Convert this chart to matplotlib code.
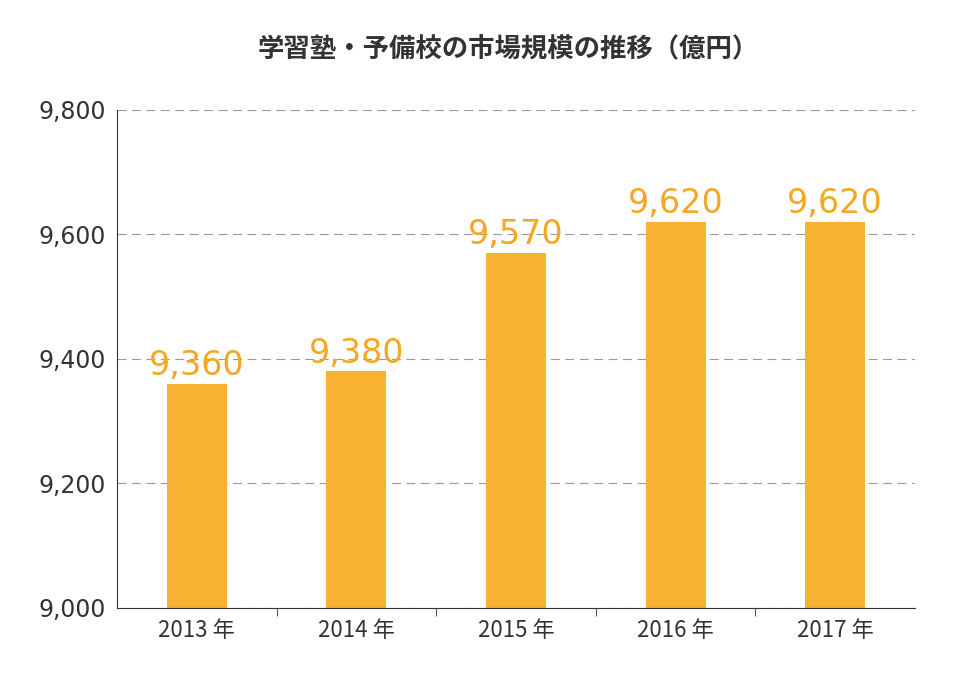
import matplotlib
matplotlib.use("Agg")
import matplotlib.pyplot as plt
import numpy as np

years = ["2013 年", "2014 年", "2015 年", "2016 年", "2017 年"]
values = [9360, 9380, 9570, 9620, 9620]
yticks = [9000, 9200, 9400, 9600, 9800]

plt.rcParams["font.family"] = "Noto Sans CJK JP"

fig = plt.figure(figsize=(9.66, 6.84), dpi=100)
ax = fig.add_axes([117/966, 1-608/684, 798/966, 498/684])

x = np.arange(len(years))
ax.bar(x, values, width=0.375, color="#F7B232", zorder=2)
for xi, v in zip(x, values):
    ax.text(xi, v + 3, f"{v:,}", ha="center", va="bottom", color="#F5A623",
            fontsize=24, fontfamily="Liberation Sans Narrow")

ax.set_xlim(-0.5, 4.5)
ax.set_ylim(9000, 9800)
ax.set_yticks(yticks)
ax.set_yticklabels([f"{t:,}" for t in yticks], fontsize=17,
                   fontfamily="Liberation Sans Narrow", color="#333333")
ax.set_xticks(x)
ax.set_xticklabels(years, fontsize=16, color="#333333")
ax.tick_params(axis="x", length=0, pad=8)
ax.set_xticks(np.arange(0.5, 4.5, 1), minor=True)
ax.tick_params(axis="x", which="minor", length=6, color="#333333")
ax.tick_params(axis="y", length=0, pad=8)
ax.grid(axis="y", color="#999999", linestyle=(0, (8, 5)), linewidth=0.8, zorder=0)
for s in ["top", "right"]:
    ax.spines[s].set_visible(False)
ax.spines["left"].set_color("#333333")
ax.spines["bottom"].set_color("#333333")

fig.text(508/966, 1-50/684, "学習塾・予備校の市場規模の推移（億円）", ha="center",
         va="center", fontsize=19, fontweight="bold", color="#333333")

fig.savefig("out.png", dpi=100)
